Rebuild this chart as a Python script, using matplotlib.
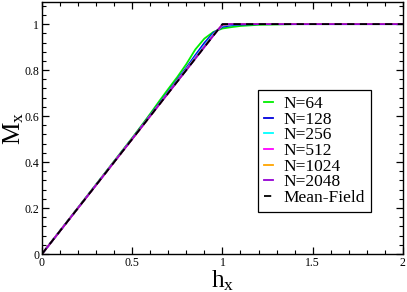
import numpy as np
import matplotlib
matplotlib.use("Agg")
import matplotlib.pyplot as plt
from matplotlib.ticker import MultipleLocator

plt.rcParams['font.family'] = 'Liberation Serif'
plt.rcParams['mathtext.fontset'] = 'custom'
plt.rcParams['mathtext.rm'] = 'Liberation Serif'
plt.rcParams['mathtext.it'] = 'Liberation Serif'

# field values
h = [0, 0.5, 0.55, 0.6, 0.65, 0.7, 0.75, 0.8, 0.85, 0.9, 0.95, 1.0, 1.05, 1.1, 1.2, 1.4, 2.0]

m64 = [0, 0.505, 0.557, 0.61, 0.665, 0.718, 0.77, 0.826, 0.89, 0.937, 0.966, 0.981, 0.987, 0.992, 0.997, 1.0, 1.0]
m128 = [0, 0.502, 0.553, 0.604, 0.655, 0.706, 0.758, 0.81, 0.865, 0.918, 0.962, 0.988, 0.995, 0.998, 1.0, 1.0, 1.0]
m256 = [0, 0.501, 0.551, 0.602, 0.652, 0.703, 0.754, 0.805, 0.857, 0.908, 0.957, 0.993, 0.998, 1.0, 1.0, 1.0, 1.0]
m512 = [0, 0.5, 0.55, 0.601, 0.651, 0.701, 0.752, 0.802, 0.853, 0.903, 0.953, 0.996, 1.0, 1.0, 1.0, 1.0, 1.0]
m1024 = [0, 0.5, 0.55, 0.6, 0.65, 0.7, 0.751, 0.801, 0.851, 0.901, 0.951, 0.998, 1.0, 1.0, 1.0, 1.0, 1.0]
m2048 = [0, 0.5, 0.55, 0.6, 0.65, 0.7, 0.75, 0.8, 0.85, 0.9, 0.95, 0.999, 1.0, 1.0, 1.0, 1.0, 1.0]

h_mf = [0, 1.0, 2.0]
m_mf = [0, 1.0, 1.0]

sizes = ['N=64', 'N=128', 'N=256', 'N=512', 'N=1024', 'N=2048']
colors = ['#00ee00', '#0000dd', '#00ffff', '#ff00ff', '#ffa500', '#9400d3']
series = [m64, m128, m256, m512, m1024, m2048]

fig = plt.figure(figsize=(4.07, 2.92), dpi=100)
ax = fig.add_axes([0.103, 0.130, 0.887, 0.863])

for lab, col, m in zip(sizes, colors, series):
    ax.plot(h, m, color=col, linewidth=1.3, label=lab)
ax.plot(h_mf, m_mf, color='black', linestyle=(0, (4, 3)), linewidth=1.3, label='Mean-Field')

ax.set_xlim(0, 2)
ax.set_ylim(0, 1.096)
ax.xaxis.set_minor_locator(MultipleLocator(0.1))
ax.yaxis.set_minor_locator(MultipleLocator(0.04))
ax.set_xticks([0, 0.5, 1, 1.5, 2])
ax.set_xticklabels(['0', '0.5', '1', '1.5', '2'])
ax.set_yticks([0, 0.2, 0.4, 0.6, 0.8, 1])
ax.set_yticklabels(['0', '0.2', '0.4', '0.6', '0.8', '1'])
ax.tick_params(which='both', direction='in', top=True, right=True, labelsize=8.5, pad=2)
ax.tick_params(which='major', length=5, width=0.9)
ax.tick_params(which='minor', length=3, width=0.8)
for s in ax.spines.values():
    s.set_linewidth(1.0)

ax.set_xlabel(r'$\mathrm{h}_\mathrm{x}$', fontsize=18, labelpad=0)
ax.set_ylabel(r'$\mathrm{M}_\mathrm{x}$', fontsize=18, labelpad=-1)

leg = ax.legend(loc='upper left', bbox_to_anchor=(0.598, 0.651), borderaxespad=0,
                fontsize=12.5, frameon=True, fancybox=False, framealpha=1,
                edgecolor='black', handlelength=0.55, handletextpad=0.55,
                labelspacing=-0.03, borderpad=0.35)
leg.get_frame().set_linewidth(0.9)

fig.savefig('out.png', dpi=100)
